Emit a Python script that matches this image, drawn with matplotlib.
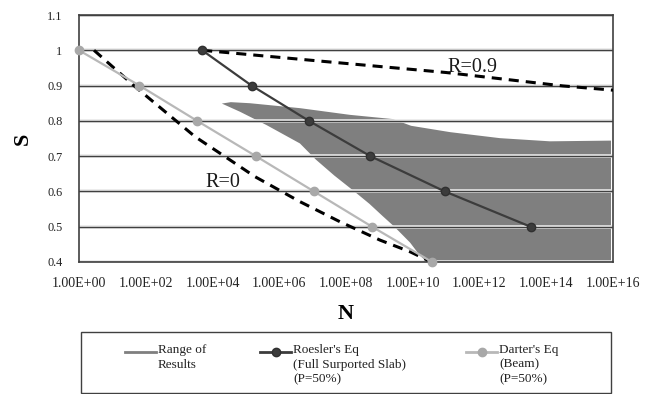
import numpy as np
import matplotlib.pyplot as plt
import matplotlib.patheffects as pe
from matplotlib.lines import Line2D
from matplotlib.patches import Rectangle

plt.rcParams['font.family'] = ['Liberation Serif', 'DejaVu Serif']

# values, N given as log10(N)
darter_logN = [0.0, 1.81, 3.54, 5.30, 7.04, 8.78, 10.58]
darter_S = [1.0, 0.9, 0.8, 0.7, 0.6, 0.5, 0.4]

roesler_logN = [3.69, 5.17, 6.89, 8.73, 10.96, 13.53]
roesler_S = [1.0, 0.9, 0.8, 0.7, 0.6, 0.5]

r0_logN = [0.45, 1.68, 2.58, 3.48, 4.37, 5.27, 6.62, 7.82, 9.02, 9.92, 10.45]
r0_S = [1.0, 0.897, 0.826, 0.755, 0.699, 0.642, 0.571, 0.514, 0.462, 0.429, 0.405]

r09_logN = [3.69, 7.5, 11.0, 14.5, 16.0]
r09_S = [1.0, 0.967, 0.937, 0.899, 0.887]

# outline of the "Range of Results" band
range_top_logN = [4.28, 4.55, 5.12, 6.62, 8.12, 9.41, 9.95, 11.12, 12.61, 14.11, 15.94]
range_top_S = [0.849, 0.853, 0.850, 0.836, 0.817, 0.805, 0.786, 0.768, 0.751, 0.742, 0.744]
range_bot_logN = [4.28, 4.82, 5.62, 6.62, 7.10, 7.65, 8.25, 8.70, 9.10, 9.45, 9.92, 10.20, 10.42]
range_bot_S = [0.849, 0.826, 0.788, 0.736, 0.690, 0.645, 0.600, 0.565, 0.530, 0.500, 0.455, 0.420, 0.400]
range_floor_S = 0.4

xtick_exp = list(range(0, 17, 2))
yticks = [0.4, 0.5, 0.6, 0.7, 0.8, 0.9, 1.0, 1.1]

legend_labels = ['Range of\nResults',
                 "Roesler's Eq\n(Full Surported Slab)\n(P=50%)",
                 "Darter's Eq\n(Beam)\n(P=50%)"]

c_range = '#7f7f7f'
c_roesler = '#3c3c3c'
c_darter = '#b8b8b8'
c_axis = '#404040'
dash = (0, (3.3, 2.3))

W, H = 659, 394
fig = plt.figure(figsize=(W / 100, H / 100), dpi=100)
ax = fig.add_axes([79 / W, 1 - 262 / H, 534 / W, 247 / H])

poly_x = 10 ** np.concatenate([range_top_logN, [range_top_logN[-1]], range_bot_logN[::-1]])
poly_y = np.concatenate([range_top_S, [range_floor_S], range_bot_S[::-1]])
ax.fill(poly_x, poly_y, color=c_range, lw=0, zorder=0.2)

ax.plot(10 ** np.array(r0_logN), r0_S, color='black', lw=2.2, ls=dash, zorder=3)
ax.plot(10 ** np.array(r09_logN), r09_S, color='black', lw=2.2, ls=dash, zorder=3)

ax.plot(10 ** np.array(roesler_logN), roesler_S, color=c_roesler, lw=1.6,
        marker='o', ms=6, mfc=c_roesler, mec='#303030', zorder=4, clip_on=False)
ax.plot(10 ** np.array(darter_logN), darter_S, color=c_darter, lw=1.6,
        marker='o', ms=6, mfc='#a8a8a8', mec='#a8a8a8', zorder=4, clip_on=False)

ax.text(10 ** 4.31, 0.624, 'R=0', ha='center', va='center', fontsize=14.5, color='#1a1a1a')
ax.text(10 ** 11.79, 0.951, 'R=0.9', ha='center', va='center', fontsize=14.5, color='#1a1a1a')

ax.set_xscale('log')
ax.set_xlim(1, 1e16)
ax.set_ylim(0.4, 1.1)
ax.set_xticks([10.0 ** e for e in xtick_exp])
ax.set_xticklabels([f'{10.0 ** e:.2E}' for e in xtick_exp])
ax.xaxis.set_minor_locator(plt.NullLocator())
ax.set_yticks(yticks)
ax.set_yticklabels([f'{v:g}' for v in yticks])
ax.tick_params(axis='x', length=0, pad=11, labelsize=10, labelcolor='#222222')
ax.tick_params(axis='y', length=0, pad=12, labelsize=8.8, labelcolor='#222222')

ax.set_axisbelow(True)
ax.yaxis.grid(True, color=c_axis, lw=1.0,
              path_effects=[pe.withStroke(linewidth=2.6, foreground='#e8e8e8')])
for s in ax.spines.values():
    s.set_color(c_axis)
    s.set_linewidth(1.2)

ax.set_xlabel('N', fontsize=16, fontweight='bold', labelpad=10)
ax.set_ylabel('S', fontsize=16, fontweight='bold', labelpad=10)


def px(x, y):
    return x / W, 1 - y / H


# legend box drawn Excel-style below the plot
fig.add_artist(Rectangle(px(81, 393), 530 / W, 61 / H, transform=fig.transFigure,
                         fill=False, edgecolor=c_axis, lw=1.0))
leg_x = [125, 260, 466]
leg_styles = [dict(color=c_range, lw=2),
              dict(color=c_roesler, lw=2, marker='o', ms=6, mfc=c_roesler, mec='#303030', markevery=[1]),
              dict(color=c_darter, lw=2, marker='o', ms=6, mfc='#a8a8a8', mec='#a8a8a8', markevery=[1])]
for x0, lab, st in zip(leg_x, legend_labels, leg_styles):
    (ax0, ay), (ax1, _) = px(x0, 352), px(x0 + 31, 352)
    fig.add_artist(Line2D([ax0, (ax0 + ax1) / 2, ax1], [ay, ay, ay],
                          transform=fig.transFigure, **st))
    tx, ty = px(x0 + 33, 344)
    fig.text(tx, ty, lab, ha='left', va='top', fontsize=9.5, linespacing=1.3, color='#222222')

fig.savefig('out.png', dpi=100)
